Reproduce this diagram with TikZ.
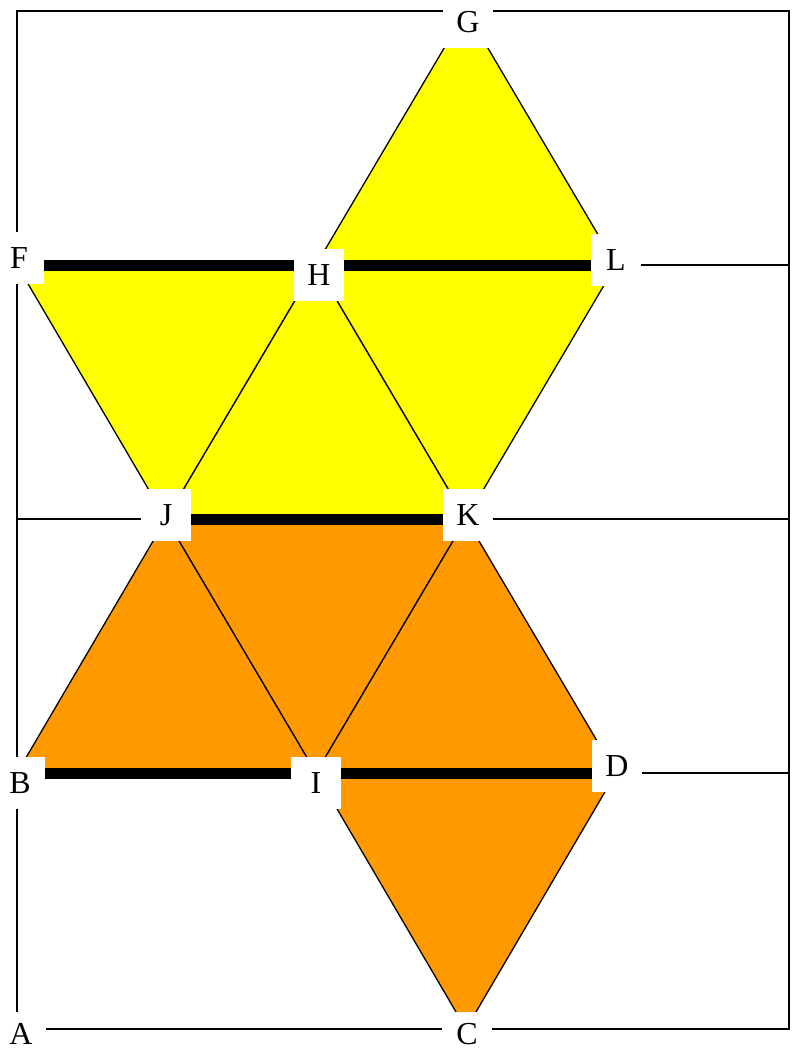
\documentclass[tikz,border=0pt]{standalone}
\usepackage{fontspec}
\setmainfont{Liberation Serif}
\definecolor{tyellow}{HTML}{FFFF00}
\definecolor{torange}{HTML}{FF9900}
\begin{document}
\begin{tikzpicture}[x=1pt,y=-1pt,
  frame/.style={line width=1.6pt, draw=black},
  edge/.style={line width=1.3pt, draw=black, line join=miter},
  thick bar/.style={line width=11pt, draw=black},
  lab/.style={fill=white, minimum width=50pt, minimum height=52pt, inner sep=0pt,
              font=\fontsize{32}{32}\selectfont},
  lowlab/.style={lab, minimum height=44pt}]
\useasboundingbox (0,0) rectangle (795,1050);
% vertices
\coordinate (pG) at (466,11);
\coordinate (pF) at (17,265);
\coordinate (pH) at (316,265);
\coordinate (pL) at (616,265);
\coordinate (pJ) at (166,519);
\coordinate (pK) at (466,519);
\coordinate (pB) at (17,773);
\coordinate (pI) at (316,773);
\coordinate (pD) at (616,773);
\coordinate (pC) at (466,1029);
\coordinate (pA) at (17,1029);
% frame points
\coordinate (tl) at (17,11);
\coordinate (tr) at (789,11);
\coordinate (br) at (789,1029);
\coordinate (r1) at (789,265);
\coordinate (r2) at (789,519);
\coordinate (r3) at (789,773);
\coordinate (l2) at (17,519);
% yellow triangles
\path[fill=tyellow, edge] (pF) -- (pH) -- (pJ) -- cycle;
\path[fill=tyellow, edge] (pH) -- (pJ) -- (pK) -- cycle;
\path[fill=tyellow, edge] (pH) -- (pK) -- (pL) -- cycle;
\path[fill=tyellow, edge] (pH) -- (pL) -- (pG) -- cycle;
% orange triangles
\path[fill=torange, edge] (pJ) -- (pK) -- (pI) -- cycle;
\path[fill=torange, edge] (pJ) -- (pI) -- (pB) -- cycle;
\path[fill=torange, edge] (pK) -- (pI) -- (pD) -- cycle;
\path[fill=torange, edge] (pI) -- (pD) -- (pC) -- cycle;
% frame and horizontal lines
\path[frame] (pA) -- (tl) -- (tr) -- (br) -- cycle;
\path[frame] (pF) -- (r1);
\path[frame] (l2) -- (r2);
\path[frame] (pB) -- (r3);
% thick bars
\path[thick bar] (pF) -- (pL);
\path[thick bar] (pJ) -- (pK);
\path[thick bar] (pB) -- (pD);
% labels
\node[lab] (G) at (468,22) {G};
\node[lab] (F) at (19,258) {F};
\node[lab] (H) at (319,275) {H};
\node[lab] (L) at (616,260) {L};
\node[lab] (J) at (166,515) {J};
\node[lab] (K) at (468,515) {K};
\node[lab] (B) at (20,783) {B};
\node[lab] (I) at (316,783) {I};
\node[lab] (D) at (617,766) {D};
\node[lowlab] (A) at (21,1034) {A};
\node[lowlab] (C) at (467,1034) {C};
\end{tikzpicture}
\end{document}
